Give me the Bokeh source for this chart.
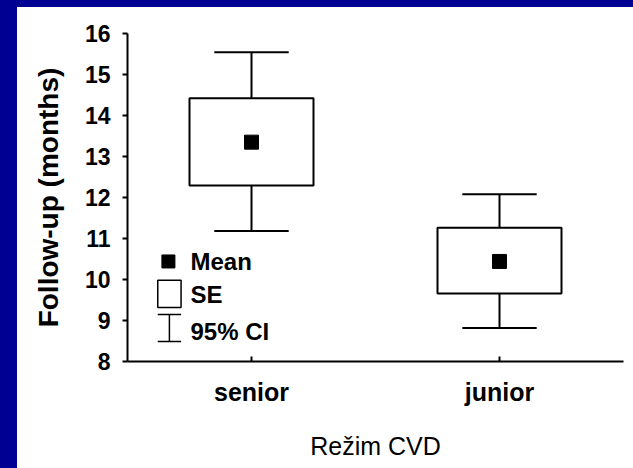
from bokeh.plotting import figure
from bokeh.models import FactorRange, Range1d, FixedTicker, Spacer, ColumnDataSource
from bokeh.layouts import row, column
from bokeh.transform import dodge
from bokeh.core.properties import value
from bokeh.embed import file_html
from bokeh.resources import INLINE

categories = ["senior", "junior"]
means = [13.35, 10.44]
se_low = [12.29, 9.66]
se_high = [14.42, 11.26]
ci_low = [11.18, 8.82]
ci_high = [15.54, 12.08]
y_ticks = [8, 9, 10, 11, 12, 13, 14, 15, 16]
legend_labels = ["Mean", "SE", "95% CI"]

BLUE = "#000092"
FONT = "Liberation Sans"

src = ColumnDataSource(dict(cat=categories, mean=means, se_low=se_low, se_high=se_high,
                            ci_low=ci_low, ci_high=ci_high))

p = figure(width=616, height=461, x_range=FactorRange(*categories, range_padding=0),
           y_range=Range1d(8, 16), output_backend="svg", toolbar_location=None,
           min_border_left=110, min_border_right=10, min_border_top=26, min_border_bottom=107)
p.outline_line_color = None
p.grid.visible = False
p.background_fill_color = "white"
p.border_fill_color = "white"

# whiskers (95% CI)
p.segment(x0="cat", y0="se_high", x1="cat", y1="ci_high", source=src, line_color="black", line_width=2)
p.segment(x0="cat", y0="ci_low", x1="cat", y1="se_low", source=src, line_color="black", line_width=2)
p.segment(x0=dodge("cat", -0.15, range=p.x_range), y0="ci_high",
          x1=dodge("cat", 0.15, range=p.x_range), y1="ci_high", source=src, line_color="black", line_width=2)
p.segment(x0=dodge("cat", -0.15, range=p.x_range), y0="ci_low",
          x1=dodge("cat", 0.15, range=p.x_range), y1="ci_low", source=src, line_color="black", line_width=2)
# SE boxes
p.vbar(x="cat", width=0.5, bottom="se_low", top="se_high", source=src,
       fill_color="white", line_color="black", line_width=2)
# means
p.scatter(x="cat", y="mean", source=src, marker="square", size=14, color="black")

# legend (drawn by hand)
lx = ("senior", -0.331)
p.scatter(x=[("senior", -0.335)], y=[10.44], marker="square", size=13, color="black")
p.quad(left=[("senior", -0.378)], right=[("senior", -0.284)], bottom=[9.32], top=[9.98],
       fill_color="white", line_color="black", line_width=1.5)
p.segment(x0=[lx], y0=[8.49], x1=[lx], y1=[9.146], line_color="black", line_width=1.5)
p.segment(x0=[("senior", -0.378), ("senior", -0.378)], y0=[8.49, 9.146],
          x1=[("senior", -0.284), ("senior", -0.284)], y1=[8.49, 9.146], line_color="black", line_width=1.5)
tx = ("senior", -0.246)
p.text(x=[tx, tx, tx], y=[10.44, 9.63, 8.73], text=legend_labels, text_font=value(FONT),
       text_font_style="bold", text_font_size="24px", text_baseline="middle", text_align="left",
       text_color="black")

# axes
p.yaxis.ticker = FixedTicker(ticks=y_ticks)
p.yaxis.axis_label = "Follow-up (months)"
p.yaxis.axis_label_text_font = FONT
p.yaxis.axis_label_text_font_style = "bold"
p.yaxis.axis_label_text_font_size = "28px"
p.yaxis.axis_label_text_color = "black"
p.yaxis.axis_label_standoff = 18
p.yaxis.major_label_text_font = FONT
p.yaxis.major_label_text_font_style = "bold"
p.yaxis.major_label_text_font_size = "23px"
p.yaxis.major_label_text_color = "black"
p.yaxis.major_label_standoff = 12
p.yaxis.major_tick_out = 5
p.yaxis.major_tick_in = 0
p.yaxis.minor_tick_line_color = None

p.xaxis.axis_label = "Režim CVD"
p.xaxis.axis_label_text_font = FONT
p.xaxis.axis_label_text_font_style = "normal"
p.xaxis.axis_label_text_font_size = "25px"
p.xaxis.axis_label_text_color = "black"
p.xaxis.axis_label_standoff = 23
p.xaxis.major_label_text_font = FONT
p.xaxis.major_label_text_font_style = "bold"
p.xaxis.major_label_text_font_size = "25px"
p.xaxis.major_label_text_color = "black"
p.xaxis.major_label_standoff = 16
p.xaxis.major_tick_in = 5
p.xaxis.major_tick_out = 0

for ax in (p.xaxis, p.yaxis):
    ax.axis_line_width = 2
    ax.axis_line_color = "black"
    ax.major_tick_line_width = 2
    ax.major_tick_line_color = "black"

left = Spacer(width=17, height=468, styles={"background-color": BLUE})
top = Spacer(width=616, height=7, styles={"background-color": BLUE})
layout = row(left, column(top, p))

open("out.html", "w").write(file_html(layout, INLINE))
